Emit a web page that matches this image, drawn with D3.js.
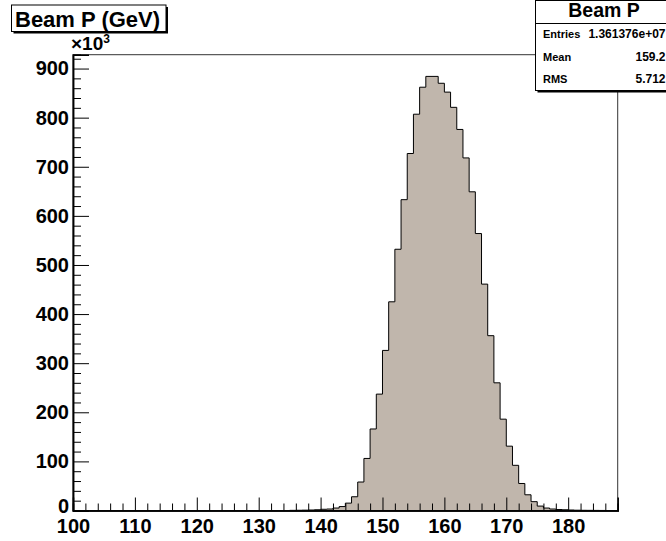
<!DOCTYPE html>
<html>
<head>
<meta charset="utf-8">
<script src="https://cdn.jsdelivr.net/npm/d3@7"></script>
<style>
  body { margin: 0; background: #fff; }
  svg { display: block; }
  text { font-family: "Liberation Sans", Arial, Helvetica, sans-serif; font-weight: bold; fill: #000; }
</style>
</head>
<body>
<svg id="c" width="666" height="541"></svg>
<script>
// Beam momentum histogram: 1 GeV bins from 100 to 188 GeV, counts in thousands
const binLow = 100;
const binWidth = 1;
const counts = [
  0, 0, 0, 0, 0, 0, 0, 0, 0, 0,          // 100-109
  0, 0, 0, 0, 0, 0, 0, 0, 0, 0,          // 110-119
  0, 0, 0, 0, 0, 0, 0, 0, 0, 0,          // 120-129
  0, 0, 0, 0, 0, 0.3, 0.5, 0.7, 1.0, 1.5, // 130-139
  2.5, 3, 5, 8, 15, 28, 58, 106, 166, 237,          // 140-149
  326, 425, 532, 633, 727, 807, 862, 884, 884, 870, // 150-159
  852, 821, 776, 718, 649, 564, 461, 356, 260, 186, // 160-169
  131, 92, 55, 32, 18, 9, 5, 3, 2, 1.5,             // 170-179
  1, 0.6, 0.4, 0.3, 0.2, 0.1, 0, 0                  // 180-187
];
const xMajorTicks = [100, 110, 120, 130, 140, 150, 160, 170, 180];
const yMajorTicks = [0, 100, 200, 300, 400, 500, 600, 700, 800, 900];
const histTitle = "Beam P (GeV)";
const statsName = "Beam P";
const statsLabels = ["Entries", "Mean", "RMS"];
const statsValues = ["1.361376e+07", "159.2", "5.712"];

const svg = d3.select("#c");
const frame = { left: 73, right: 617.7, top: 54.7, bottom: 510.5 };

const nBins = counts.length;
const xMax = binLow + nBins * binWidth;
const yMax = d3.max(counts) * 1.05;

const x = d3.scaleLinear().domain([binLow, xMax]).range([frame.left, frame.right]);
const y = d3.scaleLinear().domain([0, yMax]).range([frame.bottom, frame.top]);

// histogram fill + outline (step shape)
const pts = counts.map((c, i) => [binLow + i * binWidth, c]);
pts.push([xMax, counts[nBins - 1]]);
const area = d3.area().curve(d3.curveStepAfter)
  .x(d => x(d[0])).y0(y(0)).y1(d => y(d[1]));
const line = d3.line().curve(d3.curveStepAfter)
  .x(d => x(d[0])).y(d => y(d[1]));

svg.append("path").attr("d", area(pts)).attr("fill", "#c0b6ac").attr("stroke", "none");
svg.append("path").attr("d", line(pts)).attr("fill", "none").attr("stroke", "#000").attr("stroke-width", 1);

// frame
svg.append("rect")
  .attr("x", frame.left).attr("y", frame.top)
  .attr("width", frame.right - frame.left).attr("height", frame.bottom - frame.top)
  .attr("fill", "none").attr("stroke", "#333").attr("stroke-width", 1);

// x axis: major + minor ticks pointing inward
const xMinor = d3.range(binLow, xMax, 2).filter(v => v % 10 !== 0);
const gx = svg.append("g").attr("transform", `translate(0,${frame.bottom})`);
gx.call(d3.axisBottom(x).tickValues(xMajorTicks).tickSize(-13).tickPadding(6).tickFormat(d3.format("d")));
gx.append("g").call(d3.axisBottom(x).tickValues(xMinor).tickSize(-7).tickFormat(""));
gx.selectAll(".domain").attr("stroke", "#000").attr("stroke-width", 1.5);
gx.selectAll(".tick line").attr("stroke", "#000");
gx.selectAll(".tick text").attr("font-size", 20).attr("dy", "0.71em").attr("y", 8);

// y axis
const yMinor = d3.range(0, yMax, 20).filter(v => v % 100 !== 0);
const gy = svg.append("g").attr("transform", `translate(${frame.left},0)`);
gy.call(d3.axisLeft(y).tickValues(yMajorTicks).tickSize(-16).tickPadding(5).tickFormat(d3.format("d")));
gy.append("g").call(d3.axisLeft(y).tickValues(yMinor).tickSize(-8).tickFormat(""));
gy.selectAll(".domain").attr("stroke", "#000").attr("stroke-width", 1.5);
gy.selectAll(".tick line").attr("stroke", "#000");
gy.selectAll(".tick text").attr("font-size", 20).attr("x", -4)
  .attr("dy", d => d === 0 ? "0.12em" : "0.32em");

// exponent label above y axis
const expo = svg.append("text").attr("x", 71).attr("y", 50).attr("font-size", 19);
expo.append("tspan").text("\u00d710");
expo.append("tspan").attr("font-size", 12).attr("dy", -7).text("3");

// title box with shadow
const tb = { x: 11.5, y: 5, w: 154.5, h: 26.5 };
svg.append("rect").attr("x", tb.x + 2).attr("y", tb.y + 2).attr("width", tb.w).attr("height", tb.h).attr("fill", "#000");
svg.append("rect").attr("x", tb.x).attr("y", tb.y).attr("width", tb.w).attr("height", tb.h)
  .attr("fill", "#fff").attr("stroke", "#000").attr("stroke-width", 1);
svg.append("text").attr("x", 15).attr("y", 27).attr("font-size", 22).text(histTitle);

// statistics box
const sb = { x: 535.5, y: 0.5, w: 140, h: 90 };
svg.append("rect").attr("x", sb.x + 2).attr("y", sb.y + 2).attr("width", sb.w).attr("height", sb.h).attr("fill", "#000");
svg.append("rect").attr("x", sb.x).attr("y", sb.y).attr("width", sb.w).attr("height", sb.h)
  .attr("fill", "#fff").attr("stroke", "#000").attr("stroke-width", 1);
svg.append("line").attr("x1", sb.x).attr("x2", sb.x + sb.w).attr("y1", 23.5).attr("y2", 23.5)
  .attr("stroke", "#000").attr("stroke-width", 1);
svg.append("text").attr("x", 604).attr("y", 17).attr("text-anchor", "middle").attr("font-size", 19.5).text(statsName);
const rowY = [34.3, 56.7, 79];
statsLabels.forEach((lab, i) => {
  svg.append("text").attr("x", 543).attr("y", rowY[i] + 4).attr("font-size", 11).text(lab);
  svg.append("text").attr("x", 665.5).attr("y", rowY[i] + 4).attr("text-anchor", "end").attr("font-size", 12).text(statsValues[i]);
});
</script>
</body>
</html>
